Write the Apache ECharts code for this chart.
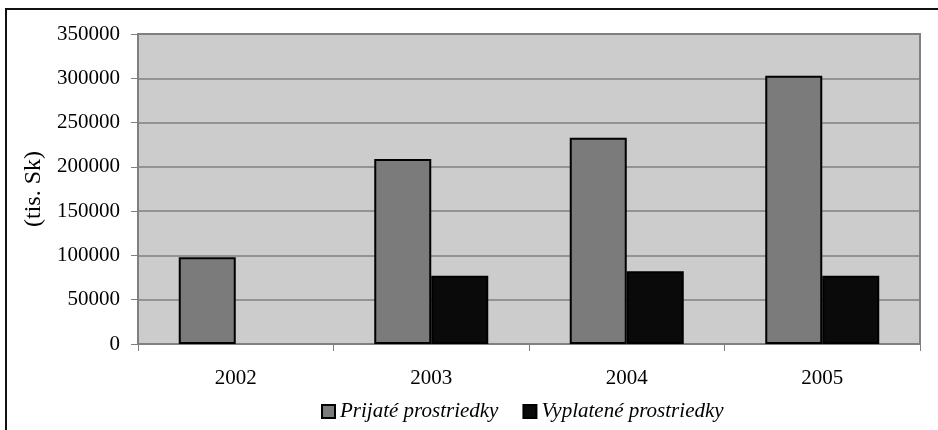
<!DOCTYPE html>
<html><head><meta charset="utf-8">
<script src="https://cdn.jsdelivr.net/npm/echarts@6/dist/echarts.min.js"></script>
<style>html,body{margin:0;padding:0;background:#fff}#c{width:938px;height:430px}</style>
</head><body><div id="c"></div>
<script>
const categories = ['2002', '2003', '2004', '2005'];
const prijate = [98000, 209000, 233000, 303000];
const vyplatene = [null, 77000, 82000, 77000];
const seriesNames = ['Prijaté prostriedky', 'Vyplatené prostriedky'];
const yAxisName = '(tis. Sk)';

const chart = echarts.init(document.getElementById('c'));
const serif = 'Liberation Serif';
chart.setOption({
  animation: false,
  graphic: [{type: 'rect', shape: {x: 6, y: 9, width: 940, height: 430}, style: {fill: 'none', stroke: '#111', lineWidth: 2}, z: -10}],
  grid: {left: 138, top: 34, width: 782, height: 310, show: true, backgroundColor: '#cccccc', borderColor: '#808080', borderWidth: 2},
  legend: {
    left: 316, top: 396, itemWidth: 13, itemHeight: 13, itemGap: 24,
    icon: 'rect',
    textStyle: {fontFamily: serif, fontStyle: 'italic', fontSize: 21, color: '#000'},
    data: seriesNames
  },
  xAxis: {
    type: 'category', data: categories,
    axisLine: {lineStyle: {color: '#808080', width: 2}},
    axisTick: {show: true, length: 7, lineStyle: {color: '#808080'}},
    axisLabel: {fontFamily: serif, fontSize: 21, color: '#000', margin: 24}
  },
  yAxis: {
    type: 'value', min: 0, max: 350000, interval: 50000,
    name: yAxisName, nameLocation: 'middle', nameRotate: 90, nameGap: 86,
    nameTextStyle: {fontFamily: serif, fontSize: 24, color: '#000'},
    axisLine: {show: true, lineStyle: {color: '#808080', width: 2}},
    axisTick: {show: true, length: 7, lineStyle: {color: '#808080'}},
    axisLabel: {fontFamily: serif, fontSize: 21, color: '#000', margin: 18,
      formatter: function (v) { return String(v); }},
    splitLine: {lineStyle: {color: '#808080', width: 1.5}}
  },
  series: [
    {name: seriesNames[0], type: 'bar', data: prijate, barWidth: 57, barGap: '0%',
     itemStyle: {color: '#7b7b7b', borderColor: '#000', borderWidth: 2}},
    {name: seriesNames[1], type: 'bar', data: vyplatene, barWidth: 57,
     itemStyle: {color: '#0a0a0a', borderColor: '#000', borderWidth: 2}}
  ]
});
</script></body></html>
